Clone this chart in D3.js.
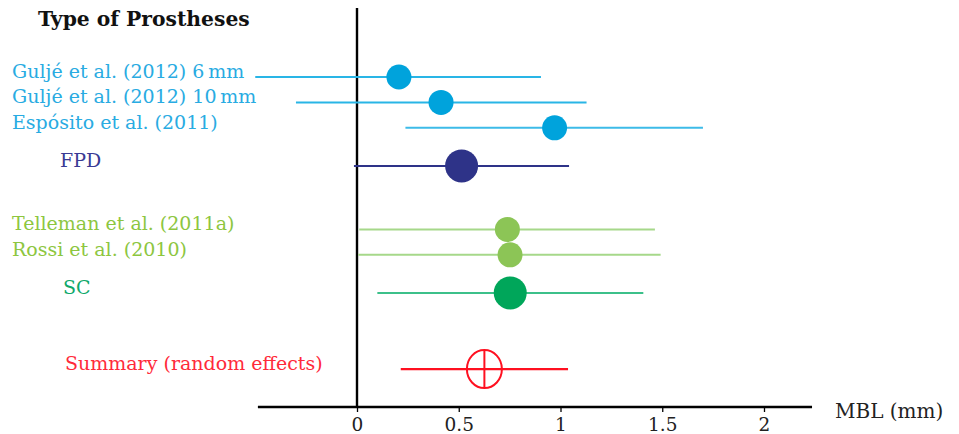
<!DOCTYPE html>
<html><head><meta charset="utf-8">
<script src="https://cdn.jsdelivr.net/npm/d3@7"></script>
<style>body{margin:0;background:#fff}svg{display:block}text{font-family:"DejaVu Serif",serif}</style>
</head><body>
<script>
const labels = ["Guljé et al. (2012) 6\u2009mm","Guljé et al. (2012) 10\u2009mm","Espósito et al. (2011)","FPD","Telleman et al. (2011a)","Rossi et al. (2010)","SC","Summary (random effects)"];
const kinds = ["study","study","study","subgroup","study","study","subgroup","summary"];
const rowPos = [0,1,2,3.5,6,7,8.5,11.5];
const mbl = [0.206,0.413,0.971,0.514,0.739,0.752,0.753,0.626];
const lower = [-0.50,-0.30,0.238,-0.015,0.011,0.006,0.10,0.215];
const upper = [0.904,1.128,1.70,1.042,1.464,1.492,1.407,1.037];
const xTicks = [0,0.5,1,1.5,2];
const title = "Type of Prostheses";
const xTitle = "MBL (mm)";

const textColors = ["#29abe2","#29abe2","#29abe2","#3a3a94","#8dc63f","#8dc63f","#0fa86a","#ff2a3a"];
const lineColors = ["#29b5e6","#29b5e6","#3dbbe8","#2e3388","#a6d88a","#a6d88a","#3cc08a","#ff1020"];
const dotColors = ["#00a3dc","#00a3dc","#00a3dc","#2e3388","#8cc556","#8cc556","#00a65a","#ff1020"];

const W=959,H=434;
const svg=d3.select("body").append("svg").attr("width",W).attr("height",H);
const x=d3.scaleLinear().domain([0,2]).range([357,764]);
const y=d3.scaleLinear().domain([0,11.5]).range([77,369.1]);
const axisY=407;

svg.append("line").attr("x1",x(-0.487)).attr("x2",x(2.236)).attr("y1",axisY).attr("y2",axisY).attr("stroke","#000").attr("stroke-width",2.4);
svg.append("line").attr("x1",x(0)).attr("x2",x(0)).attr("y1",8).attr("y2",axisY).attr("stroke","#000").attr("stroke-width",2.4);
const ax=svg.append("g").attr("transform",`translate(0,${axisY})`)
 .call(d3.axisBottom(x).tickValues(xTicks).tickSize(5).tickPadding(6).tickFormat(d3.format("")));
ax.select(".domain").remove();
ax.selectAll(".tick line").attr("stroke","#000").attr("stroke-width",1.3);
ax.selectAll(".tick text").attr("font-size",18.5).attr("fill","#222").style("font-family","DejaVu Serif");
svg.append("text").attr("x",835).attr("y",418).attr("font-size",20).attr("fill","#222").text(xTitle);

svg.append("text").attr("x",38).attr("y",26).attr("font-size",20.3).attr("font-weight","bold").attr("fill","#111").text(title);

const rows=labels.map((l,i)=>({l,k:kinds[i],p:rowPos[i],m:mbl[i],lo:lower[i],hi:upper[i],tc:textColors[i],lc:lineColors[i],dc:dotColors[i]}));

const labelX={study:12,subgroup:60,summary:65};
svg.selectAll(".lab").data(rows).join("text").attr("class","lab")
 .attr("x",d=>d.k==="subgroup"&&d.l==="SC"?63:labelX[d.k]).attr("y",d=>y(d.p)+1)
 .attr("font-size",19).attr("fill",d=>d.tc).text(d=>d.l);

svg.selectAll(".ci").data(rows).join("line").attr("class","ci")
 .attr("x1",d=>x(d.lo)).attr("x2",d=>x(d.hi)).attr("y1",d=>y(d.p)).attr("y2",d=>y(d.p))
 .attr("stroke",d=>d.lc).attr("stroke-width",d=>d.k==="summary"?2.4:2);

const rad={study:12.5,subgroup:16.5};
svg.selectAll(".dot").data(rows.filter(d=>d.k!=="summary")).join("circle").attr("class","dot")
 .attr("cx",d=>x(d.m)).attr("cy",d=>y(d.p)).attr("r",d=>rad[d.k]).attr("fill",d=>d.dc);

const s=rows.filter(d=>d.k==="summary");
svg.selectAll(".sum").data(s).join("ellipse").attr("class","sum")
 .attr("cx",d=>x(d.m)).attr("cy",d=>y(d.p)).attr("rx",17.5).attr("ry",19)
 .attr("fill","none").attr("stroke",d=>d.lc).attr("stroke-width",2);
svg.selectAll(".sumv").data(s).join("line").attr("class","sumv")
 .attr("x1",d=>x(d.m)).attr("x2",d=>x(d.m)).attr("y1",d=>y(d.p)-19).attr("y2",d=>y(d.p)+19)
 .attr("stroke",d=>d.lc).attr("stroke-width",2);
</script>
</body></html>
